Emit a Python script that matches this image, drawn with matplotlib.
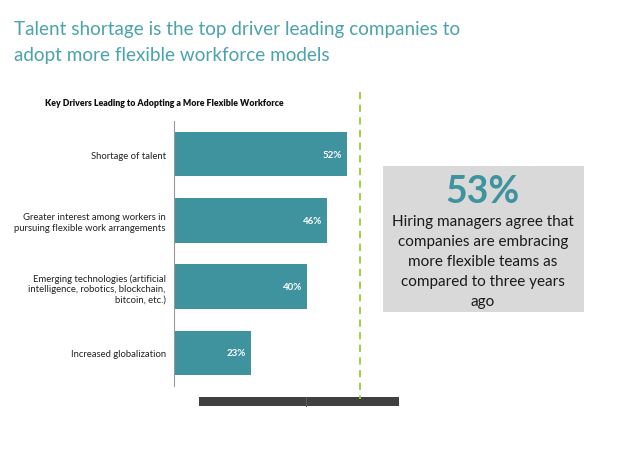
import matplotlib.pyplot as plt
from matplotlib.patches import Rectangle

categories = ['Shortage of talent',
              'Greater interest among workers in\npursuing flexible work arrangements',
              'Emerging technologies (artificial\nintelligence, robotics, blockchain,\nbitcoin, etc.)',
              'Increased globalization']
values = [52, 46, 40, 23]
callout_value = '53%'
callout_text = 'Hiring managers agree that\ncompanies are embracing\nmore flexible teams as\ncompared to three years\nago'

plt.rcParams['font.family'] = ['Lato', 'DejaVu Sans']

teal = '#3f939e'
title_teal = '#4ba3ac'
W, H = 620, 456

fig = plt.figure(figsize=(6.2, 4.56), dpi=100)
fig.patch.set_facecolor('white')

def fx(px):
    return px / W

def fy(py):
    return 1 - py / H

# headline, two lines
fig.text(fx(14), fy(30), 'Talent shortage is the top driver leading companies to',
         color=title_teal, fontsize=13.6, va='center', ha='left')
fig.text(fx(14), fy(56), 'adopt more flexible workforce models',
         color=title_teal, fontsize=13.6, va='center', ha='left')

# bar chart
ax = fig.add_axes([fx(174), fy(387), fx(360) - fx(174), fy(122) - fy(387)])
pos = list(range(len(values)))
ax.barh(pos, values, height=0.67, color=teal)
ax.set_ylim(3.5, -0.5)
ax.set_xlim(0, 55.9)
ax.set_yticks(pos)
ax.set_yticklabels(categories, fontsize=6.8, color='#222222', linespacing=1.2)
ax.tick_params(axis='y', length=0, pad=6)
ax.set_xticks([])
for s in ['top', 'right', 'bottom']:
    ax.spines[s].set_visible(False)
ax.spines['left'].set_color('#999999')
for p, v in zip(pos, values):
    ax.text(v - 1.5, p, f'{v}%', color='white', fontsize=7, fontweight='bold',
            ha='right', va='center')

fig.text(fx(164), fy(104), 'Key Drivers Leading to Adopting a More Flexible Workforce',
         fontsize=6.3, fontweight='heavy', ha='center', va='center', color='#111111')

# dashed divider
fig.add_artist(plt.Line2D([fx(360), fx(360)], [fy(93), fy(400)], color='#9acd32',
                          linestyle=(0, (4, 3)), linewidth=1.3))

# callout box
fig.add_artist(Rectangle((fx(383), fy(313)), fx(584) - fx(383), fy(167) - fy(313),
                         facecolor='#d9d9d9', edgecolor='none', transform=fig.transFigure))
fig.text(fx(483), fy(192), callout_value, color=teal, fontsize=27, fontweight='bold',
         ha='center', va='center')
fig.text(fx(483), fy(262), callout_text, color='#1a1a1a', fontsize=11,
         ha='center', va='center', linespacing=1.55)

# dark strip at bottom
fig.add_artist(Rectangle((fx(199), fy(407)), fx(399) - fx(199), fy(398) - fy(407),
                         facecolor='#404040', edgecolor='none', transform=fig.transFigure))
fig.add_artist(plt.Line2D([fx(306), fx(306)], [fy(407), fy(398)], color='#5a5a5a', linewidth=0.8))

fig.savefig('out.png', dpi=100)
